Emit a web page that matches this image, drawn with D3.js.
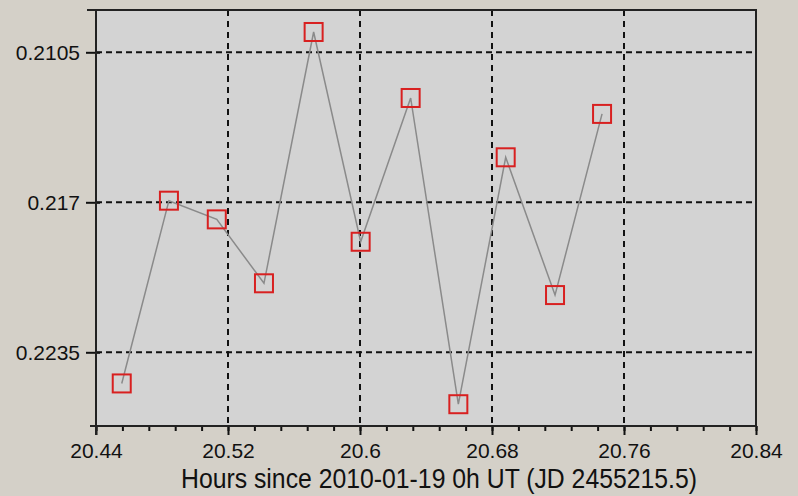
<!DOCTYPE html>
<html><head><meta charset="utf-8">
<script src="https://cdn.jsdelivr.net/npm/d3@7/dist/d3.min.js"></script>
<style>
html,body{margin:0;padding:0;background:#d4d0c8;}
svg{display:block;}
</style></head>
<body>
<svg id="c" width="798" height="496"></svg>
<script>
const hours = [20.4556, 20.4842, 20.5132, 20.5418, 20.5719, 20.6004, 20.6307, 20.6596, 20.6883, 20.7182, 20.7467];
const mags  = [0.22485, 0.21693, 0.21774, 0.22051, 0.20962, 0.21871, 0.21248, 0.22575, 0.21505, 0.22102, 0.21317];
const xTicks = [20.44, 20.52, 20.6, 20.68, 20.76, 20.84];
const yTicks = [0.2105, 0.217, 0.2235];
const xTitle = "Hours since 2010-01-19 0h UT (JD 2455215.5)";

const svg = d3.select("#c");
const L = 96, R = 756, T = 10, B = 426;
const x = d3.scaleLinear().domain([20.44, 20.84]).range([L, R]);
const y = d3.scaleLinear().domain([0.208667, 0.226694]).range([T, B]);

svg.append("rect").attr("width", 798).attr("height", 496).attr("fill", "#d4d0c8");
svg.append("rect").attr("x", L).attr("y", T).attr("width", R - L).attr("height", B - T).attr("fill", "#d3d3d3");

// grid
const g = svg.append("g");
g.selectAll(".hg").data(yTicks).join("line")
  .attr("x1", L).attr("x2", R).attr("y1", d => y(d)).attr("y2", d => y(d))
  .attr("stroke", "#111").attr("stroke-width", 2).attr("stroke-dasharray", "6,4");
g.selectAll(".vg").data(xTicks.slice(1, -1)).join("line")
  .attr("x1", d => x(d)).attr("x2", d => x(d)).attr("y1", T).attr("y2", B)
  .attr("stroke", "#111").attr("stroke-width", 2).attr("stroke-dasharray", "6,5");

// frame
svg.append("line").attr("x1", 87).attr("x2", R + 1).attr("y1", T).attr("y2", T).attr("stroke", "#222").attr("stroke-width", 2);
svg.append("line").attr("x1", R).attr("x2", R).attr("y1", T).attr("y2", B).attr("stroke", "#222").attr("stroke-width", 2);

// axes
const minor = d3.range(20.44, 20.8401, 0.016);
const xAxisMinor = d3.axisBottom(x).tickValues(minor).tickSize(5).tickFormat("");
const xa2 = svg.append("g").attr("transform", `translate(0,${B})`).call(xAxisMinor);
xa2.select(".domain").remove();
xa2.selectAll("line").attr("stroke", "#111").attr("stroke-width", 2);

const xAxis = d3.axisBottom(x).tickValues(xTicks).tickSize(9).tickPadding(8).tickFormat(d => d3.format("")(+d.toFixed(2)));
const xa = svg.append("g").attr("transform", `translate(0,${B})`).call(xAxis);
xa.select(".domain").remove();
xa.selectAll("line").attr("stroke", "#111").attr("stroke-width", 2);
xa.selectAll("text").attr("font-family", "Liberation Sans, Arial, sans-serif").attr("font-size", 21).attr("fill", "#111");
svg.append("line").attr("x1", 90).attr("x2", R + 1).attr("y1", B).attr("y2", B).attr("stroke", "#222").attr("stroke-width", 2);

const yAxis = d3.axisLeft(y).tickValues(yTicks).tickSize(10).tickPadding(6).tickFormat(d => String(d));
const ya = svg.append("g").attr("transform", `translate(${L},0)`).call(yAxis);
ya.select(".domain").remove();
ya.selectAll("line").attr("stroke", "#111").attr("stroke-width", 2).attr("x2", -10).attr("x1", 4);
ya.selectAll("text").attr("font-family", "Liberation Sans, Arial, sans-serif").attr("font-size", 21).attr("fill", "#111");
svg.append("line").attr("x1", L).attr("x2", L).attr("y1", T).attr("y2", B + 9).attr("stroke", "#222").attr("stroke-width", 2);

// title
svg.append("text").attr("x", 181).attr("y", 488)
  .attr("font-family", "Liberation Sans, Arial, sans-serif").attr("font-size", 25).attr("fill", "#111")
  .attr("transform", "translate(0,488) scale(1,1.1) translate(0,-488)")
  .attr("textLength", 516).attr("lengthAdjust", "spacingAndGlyphs")
  .text(xTitle);

// data
const pts = hours.map((h, i) => [h, mags[i]]);
svg.append("path").datum(pts)
  .attr("d", d3.line().x(d => x(d[0])).y(d => y(d[1])))
  .attr("fill", "none").attr("stroke", "#8a8a8a").attr("stroke-width", 1.5);
svg.selectAll(".m").data(pts).join("rect")
  .attr("x", d => x(d[0]) - 9).attr("y", d => y(d[1]) - 9)
  .attr("width", 18).attr("height", 18)
  .attr("fill", "none").attr("stroke", "#d82020").attr("stroke-width", 2);
</script>
</body></html>
